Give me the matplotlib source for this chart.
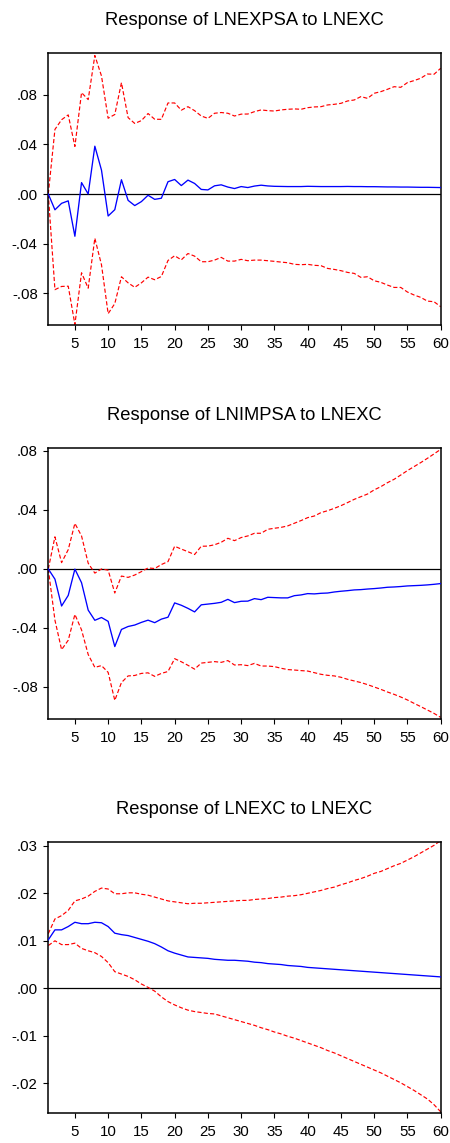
import numpy as np
import matplotlib
matplotlib.use("Agg")
import matplotlib.pyplot as plt
from matplotlib.ticker import FixedLocator, FuncFormatter

plt.rcParams['font.family'] = ['Liberation Sans', 'DejaVu Sans']
plt.rcParams['lines.scale_dashes'] = False

# Periodos del horizonte de respuesta
periods = np.arange(1, 61)

# Respuesta de LNEXPSA a LNEXC y sus bandas (+/- 2 E.S.)
exp_resp = [0.0, -0.0127, -0.0075, -0.0055, -0.034, 0.0092, 0.0, 0.0385, 0.0192, -0.0177,
            -0.0126, 0.0115, -0.0051, -0.0093, -0.0061, -0.001, -0.0043, -0.0034, 0.0099, 0.0117,
            0.0068, 0.0112, 0.0085, 0.0037, 0.0033, 0.0066, 0.0074, 0.0056, 0.0044, 0.006,
            0.0052, 0.0064, 0.0071, 0.0065, 0.0062, 0.0061, 0.006, 0.006, 0.006, 0.0062,
            0.0061, 0.006, 0.006, 0.006, 0.006, 0.0061, 0.006, 0.006, 0.0059, 0.0059,
            0.0058, 0.0057, 0.0057, 0.0056, 0.0056, 0.0055, 0.0054, 0.0054, 0.0053, 0.0052]
exp_up = [0.0, 0.052, 0.0598, 0.0637, 0.0383, 0.0816, 0.076, 0.1115, 0.095, 0.061,
          0.064, 0.0896, 0.0615, 0.0568, 0.0591, 0.0648, 0.0602, 0.0601, 0.0733, 0.0733,
          0.0675, 0.0703, 0.0671, 0.0628, 0.0609, 0.065, 0.0656, 0.065, 0.0628, 0.0643,
          0.0644, 0.0663, 0.0677, 0.0671, 0.0668, 0.0677, 0.0682, 0.0685, 0.0682, 0.0695,
          0.0701, 0.0703, 0.0717, 0.0722, 0.073, 0.0749, 0.0757, 0.0784, 0.077, 0.0811,
          0.0824, 0.0843, 0.0864, 0.0859, 0.0897, 0.0913, 0.0932, 0.0966, 0.0964, 0.1012]
exp_lo = [0.0, -0.077, -0.0744, -0.0742, -0.105, -0.0634, -0.0758, -0.0356, -0.057, -0.0963,
          -0.0882, -0.0666, -0.0715, -0.0751, -0.0715, -0.0669, -0.069, -0.0664, -0.0535, -0.0497,
          -0.053, -0.0479, -0.05, -0.0545, -0.0545, -0.0532, -0.051, -0.054, -0.054, -0.0526,
          -0.0537, -0.0532, -0.0532, -0.0537, -0.0542, -0.0548, -0.0553, -0.0566, -0.0569, -0.0566,
          -0.0574, -0.0577, -0.0599, -0.0607, -0.0617, -0.0631, -0.0639, -0.0671, -0.0666, -0.0698,
          -0.0711, -0.0733, -0.0752, -0.0752, -0.0789, -0.0813, -0.0832, -0.0862, -0.0867, -0.0907]

# Respuesta de LNIMPSA a LNEXC
imp_resp = [0.0, -0.0069, -0.0251, -0.0179, -0.0001, -0.0093, -0.0279, -0.0348, -0.0329, -0.0355,
            -0.0526, -0.041, -0.039, -0.038, -0.0362, -0.0347, -0.0364, -0.034, -0.0327, -0.023,
            -0.0246, -0.0267, -0.0291, -0.0243, -0.0238, -0.0233, -0.0226, -0.0206, -0.0228, -0.0219,
            -0.0218, -0.0201, -0.0208, -0.0192, -0.0194, -0.0196, -0.0196, -0.0181, -0.0176, -0.0167,
            -0.0169, -0.0165, -0.0163, -0.0156, -0.0151, -0.0147, -0.0142, -0.014, -0.0136, -0.0133,
            -0.0129, -0.0124, -0.0122, -0.0119, -0.0115, -0.0113, -0.0111, -0.0108, -0.0104, -0.0099]
imp_up = [0.0, 0.0218, 0.0043, 0.0131, 0.0309, 0.0224, 0.0039, -0.0028, 0.0, -0.0008,
          -0.0163, -0.0048, -0.0057, -0.0041, -0.0018, 0.0007, 0.0003, 0.003, 0.005, 0.0154,
          0.0135, 0.0117, 0.0098, 0.0154, 0.0155, 0.0164, 0.0181, 0.0208, 0.0192, 0.0213,
          0.0224, 0.0242, 0.0242, 0.0269, 0.0276, 0.0282, 0.0292, 0.031, 0.0328, 0.0348,
          0.0359, 0.0382, 0.0395, 0.0411, 0.0429, 0.045, 0.0472, 0.049, 0.0508, 0.0536,
          0.0558, 0.0585, 0.0608, 0.0637, 0.0667, 0.0694, 0.0721, 0.075, 0.078, 0.0811]
imp_lo = [0.0, -0.0347, -0.0547, -0.0483, -0.0308, -0.0413, -0.058, -0.0667, -0.0655, -0.0701,
          -0.0891, -0.077, -0.0725, -0.0722, -0.0708, -0.0704, -0.0728, -0.0708, -0.0695, -0.0608,
          -0.0629, -0.0653, -0.0679, -0.0638, -0.0633, -0.0628, -0.0633, -0.0621, -0.0651, -0.0649,
          -0.0655, -0.064, -0.0658, -0.0658, -0.0662, -0.0673, -0.0682, -0.0685, -0.0689, -0.0692,
          -0.0703, -0.0714, -0.0721, -0.0725, -0.0734, -0.0748, -0.0759, -0.077, -0.0784, -0.08,
          -0.0816, -0.0834, -0.085, -0.0868, -0.0888, -0.0911, -0.0933, -0.0956, -0.0979, -0.1006]

# Respuesta de LNEXC a LNEXC
exc_resp = [0.0102, 0.0123, 0.0123, 0.013, 0.0139, 0.0136, 0.0136, 0.0139, 0.0138, 0.013,
            0.0116, 0.0113, 0.0111, 0.0107, 0.0103, 0.0099, 0.0094, 0.0087, 0.0079, 0.0074,
            0.007, 0.0066, 0.0065, 0.0064, 0.0063, 0.0061, 0.006, 0.0059, 0.0059, 0.0058,
            0.0057, 0.0055, 0.0054, 0.0052, 0.0051, 0.005, 0.0048, 0.0047, 0.0046, 0.0044,
            0.0043, 0.0042, 0.0041, 0.004, 0.0039, 0.0038, 0.0037, 0.0036, 0.0035, 0.0034,
            0.0033, 0.0032, 0.0031, 0.003, 0.0029, 0.0028, 0.0027, 0.0026, 0.0025, 0.0024]
exc_up = [0.0115, 0.0146, 0.0153, 0.0164, 0.0184, 0.0188, 0.0194, 0.0204, 0.0211, 0.0209,
          0.0199, 0.0199, 0.0201, 0.0201, 0.0198, 0.0196, 0.0192, 0.0188, 0.0184, 0.0182,
          0.018, 0.0178, 0.0179, 0.0179, 0.018, 0.0181, 0.0182, 0.0183, 0.0184, 0.0185,
          0.0185, 0.0187, 0.0188, 0.0189, 0.0191, 0.0192, 0.0194, 0.0195, 0.0197, 0.02,
          0.0203, 0.0206, 0.021, 0.0213, 0.0218, 0.0222, 0.0227, 0.0231, 0.0236, 0.0242,
          0.0246, 0.0252, 0.0258, 0.0263, 0.027, 0.0277, 0.0285, 0.0293, 0.0301, 0.0311]
exc_lo = [0.009, 0.01, 0.0092, 0.0092, 0.0095, 0.0084, 0.0079, 0.0075, 0.0067, 0.0054,
          0.0035, 0.003, 0.0025, 0.0018, 0.0009, 0.0002, -0.0006, -0.0018, -0.0028, -0.0035,
          -0.0041, -0.0046, -0.0049, -0.0051, -0.0053, -0.0054, -0.0058, -0.0062, -0.0066, -0.007,
          -0.0074, -0.0078, -0.0083, -0.0087, -0.0092, -0.0096, -0.0101, -0.0105, -0.011, -0.0115,
          -0.012, -0.0125, -0.0131, -0.0136, -0.0142, -0.0148, -0.0154, -0.016, -0.0166, -0.0172,
          -0.0178, -0.0185, -0.0192, -0.0199, -0.0207, -0.0215, -0.0224, -0.0233, -0.0245, -0.026]

titles = ["Response of LNEXPSA to LNEXC",
          "Response of LNIMPSA to LNEXC",
          "Response of LNEXC to LNEXC"]
yticks = [[-0.08, -0.04, 0.0, 0.04, 0.08],
          [-0.08, -0.04, 0.0, 0.04, 0.08],
          [-0.02, -0.01, 0.0, 0.01, 0.02, 0.03]]
xticks = [5, 10, 15, 20, 25, 30, 35, 40, 45, 50, 55, 60]


def fmt(v, pos):
    # Formato tipo EViews: sin el cero inicial (.04, -.08)
    if abs(v) < 1e-12:
        return ".00"
    return ("%.2f" % v).replace("0.", ".", 1)


def panel(fig, rect, resp, up, lo, title, ylim, ticks):
    ax = fig.add_axes(rect)
    ax.axhline(0, color="black", lw=0.9, zorder=1)
    ax.plot(periods, up, color="#ff0000", lw=0.85, ls=(0, (3, 1.6)), zorder=2)
    ax.plot(periods, lo, color="#ff0000", lw=0.85, ls=(0, (3, 1.6)), zorder=2)
    ax.plot(periods, resp, color="#0000ff", lw=0.95, zorder=3)
    ax.set_xlim(1, 60)
    ax.set_ylim(*ylim)
    ax.xaxis.set_major_locator(FixedLocator(xticks))
    ax.yaxis.set_major_locator(FixedLocator(ticks))
    ax.yaxis.set_major_formatter(FuncFormatter(fmt))
    ax.tick_params(direction="out", length=3.6, width=0.8, labelsize=10.8,
                   colors="black", pad=4)
    ax.tick_params(axis="x", pad=5)
    for sp in ax.spines.values():
        sp.set_linewidth(1.1)
    ax.set_title(title, fontsize=13.2, pad=20)
    return ax


def main():
    fig = plt.figure(figsize=(4.5, 11.43), dpi=100)
    w = 0.872
    panel(fig, [0.1073, 0.7157, w, 0.2377], exp_resp, exp_up, exp_lo,
          titles[0], (-0.1054, 0.1133), yticks[0])
    panel(fig, [0.1073, 0.3707, w, 0.2376], imp_resp, imp_up, imp_lo,
          titles[1], (-0.1019, 0.0822), yticks[1])
    panel(fig, [0.1073, 0.0265, w, 0.2371], exc_resp, exc_up, exc_lo,
          titles[2], (-0.02619, 0.03086), yticks[2])
    fig.savefig("out.png", dpi=100)


if __name__ == "__main__":
    main()
